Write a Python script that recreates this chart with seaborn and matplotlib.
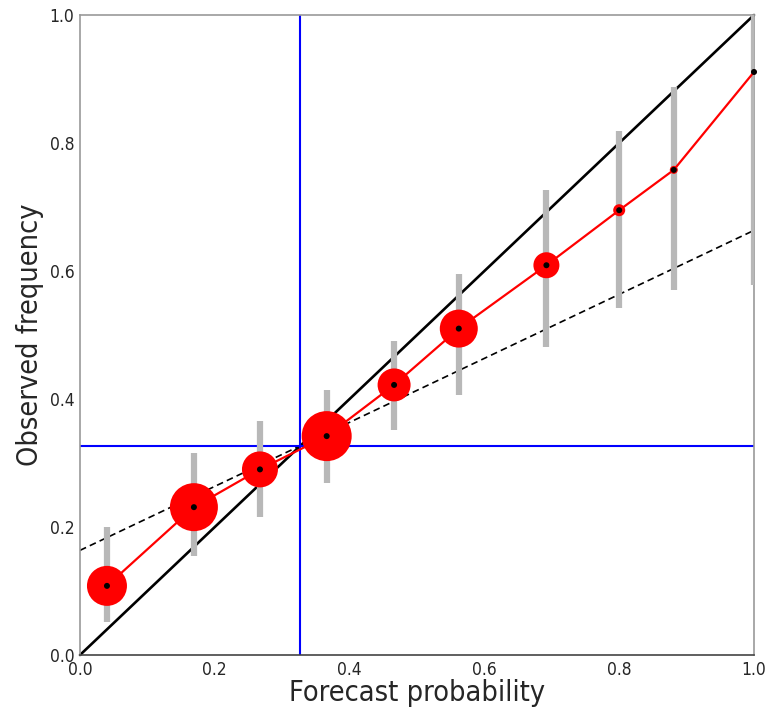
import matplotlib
matplotlib.use("Agg")
import matplotlib.pyplot as plt
import seaborn as sns
import numpy as np
import pandas as pd

# Data
forecast = [0.040, 0.169, 0.267, 0.366, 0.466, 0.562, 0.692, 0.800, 0.881, 1.000]
observed = [0.108, 0.231, 0.290, 0.342, 0.422, 0.510, 0.609, 0.695, 0.758, 0.911]
err_low = [0.052, 0.154, 0.215, 0.268, 0.352, 0.406, 0.481, 0.542, 0.570, 0.578]
err_high = [0.200, 0.316, 0.366, 0.414, 0.491, 0.595, 0.727, 0.819, 0.887, 1.000]
marker_px = [40, 48, 36, 50, 33, 38, 26, 12, 8, 5]   # relative sample size (circle diameter)
climatology = 0.327
xticks = [0.0, 0.2, 0.4, 0.6, 0.8, 1.0]
yticks = [0.0, 0.2, 0.4, 0.6, 0.8, 1.0]

df = pd.DataFrame({"forecast": forecast, "observed": observed,
                   "lo": err_low, "hi": err_high, "size": marker_px})

sns.set_style("white")
plt.rcParams['font.family'] = ['DejaVu Sans']
plt.rcParams['font.stretch'] = 'condensed'

dpi = 100
fig = plt.figure(figsize=(771 / dpi, 714 / dpi), dpi=dpi)
ax = fig.add_axes([80 / 771, 59 / 714, 674 / 771, 640 / 714])

# perfect reliability diagonal
diag = np.array([0.0, 1.0])
ax.plot(diag, diag, color="black", lw=1.9, zorder=2, clip_on=False)
# no-skill line
ax.plot(diag, (diag + climatology) / 2, color="black", lw=1.2, ls=(0, (4, 2.5)), zorder=2)
# climatology lines
ax.axvline(climatology, color="#0000ff", lw=1.5, zorder=2)
ax.axhline(climatology, color="#0000ff", lw=1.5, zorder=2)

# error bars
ax.vlines(df["forecast"], df["lo"], df["hi"], color="#b8b8b8", lw=4.5, zorder=3)

# reliability curve
sns.lineplot(data=df, x="forecast", y="observed", color="red", lw=1.6, ax=ax,
             zorder=4, sort=False)
sizes_pt2 = (df["size"] * 72 / dpi) ** 2
sns.scatterplot(data=df, x="forecast", y="observed", s=sizes_pt2, color="red",
                edgecolor="none", ax=ax, zorder=5, legend=False, clip_on=False)
sns.scatterplot(data=df, x="forecast", y="observed", s=(6 * 72 / dpi) ** 2, color="black",
                edgecolor="none", ax=ax, zorder=6, legend=False, clip_on=False)

ax.set_xlim(0, 1)
ax.set_ylim(0, 1)
ax.set_xticks(xticks)
ax.set_yticks(yticks)
ax.set_xticklabels([f"{t:.1f}" for t in xticks])
ax.set_yticklabels([f"{t:.1f}" for t in yticks])
ax.tick_params(axis="both", which="major", direction="out", length=3, width=1,
               color="#888888", labelsize=12.5, pad=1)
for side in ["top", "right", "left"]:
    ax.spines[side].set_color("#999999")
    ax.spines[side].set_linewidth(1.2)
ax.spines["bottom"].set_color("#444444")
ax.spines["bottom"].set_linewidth(1.2)

ax.set_xlabel("Forecast probability", fontsize=20.7, labelpad=0)
ax.set_ylabel("Observed frequency", fontsize=20.7, labelpad=4)

fig.savefig("out.png", dpi=dpi)
